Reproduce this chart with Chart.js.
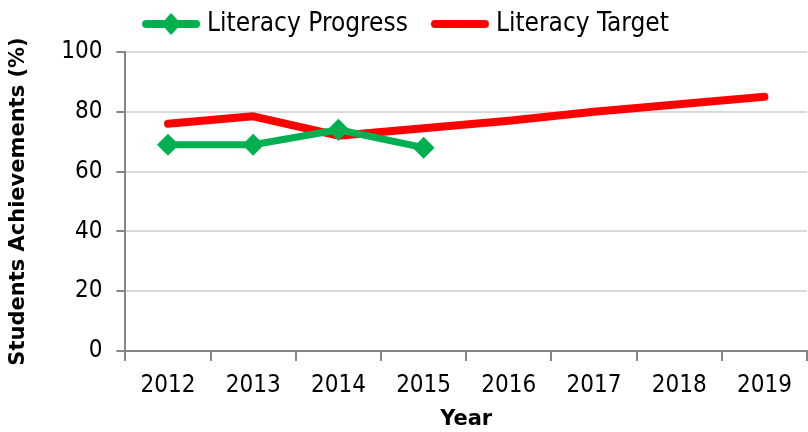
<!DOCTYPE html>
<html>
<head>
<meta charset="utf-8">
<script src="https://cdn.jsdelivr.net/npm/chart.js@4"></script>
<style>
html,body{margin:0;padding:0;background:#fff;}
#wrap{width:808px;height:432px;}
</style>
</head>
<body>
<div id="wrap"><canvas id="c" width="808" height="432"></canvas></div>
<script>
const years = ['2012','2013','2014','2015','2016','2017','2018','2019'];
const literacyProgress = [69, 69, 74, 68, null, null, null, null];
const literacyTarget = [76, 78.5, 72, 74.5, 77, 80, 82.5, 85];
const yTicks = [0, 20, 40, 60, 80, 100];

const GREEN = '#00B050';
const RED = '#FF0000';

function legendIcon(color, diamond) {
  const c = document.createElement('canvas');
  c.width = 72; c.height = 26;
  const g = c.getContext('2d');
  g.strokeStyle = color; g.lineWidth = 8; g.lineCap = 'round';
  g.beginPath(); g.moveTo(13, 13); g.lineTo(63, 13); g.stroke();
  if (diamond) {
    g.fillStyle = color;
    g.beginPath(); g.moveTo(38, 2); g.lineTo(48, 13); g.lineTo(38, 24); g.lineTo(28, 13); g.closePath(); g.fill();
  }
  return c;
}

const legendGap = {
  id: 'legendGap',
  afterInit(chart) {
    const lg = chart.legend;
    if (!lg) return;
    const orig = lg.fit.bind(lg);
    lg.fit = function () { orig(); this.height += 5; };
  }
};

const TICK_FONT = "'DejaVu Sans Condensed', 'DejaVu Sans', sans-serif";
const TITLE_FONT = "'DejaVu Sans', sans-serif";
Chart.defaults.font.family = TICK_FONT;
Chart.defaults.color = '#000';

new Chart(document.getElementById('c'), {
  type: 'line',
  plugins: [legendGap],
  data: {
    labels: years,
    datasets: [
      {
        label: 'Literacy Progress',
        data: literacyProgress,
        borderColor: GREEN,
        backgroundColor: GREEN,
        borderWidth: 7,
        pointStyle: 'rectRot',
        pointRadius: 11,
        pointHoverRadius: 11,
        pointBorderWidth: 0,
        borderJoinStyle: 'round',
        borderCapStyle: 'round',
        tension: 0,
        spanGaps: false
      },
      {
        label: 'Literacy Target',
        data: literacyTarget,
        borderColor: RED,
        backgroundColor: RED,
        borderWidth: 8,
        pointRadius: 0,
        pointHoverRadius: 0,
        borderJoinStyle: 'round',
        borderCapStyle: 'round',
        tension: 0
      }
    ]
  },
  options: {
    responsive: false,
    animation: false,
    layout: { autoPadding: false, padding: { top: -14, right: 1, left: 6, bottom: 0 } },
    plugins: {
      tooltip: { enabled: false },
      legend: {
        position: 'top',
        labels: {
          usePointStyle: true,
          pointStyleWidth: 50,
          font: { size: 26 },
          padding: 25,
          generateLabels: (chart) => chart.data.datasets.map((ds, i) => ({
            text: ds.label,
            fillStyle: ds.borderColor,
            strokeStyle: ds.borderColor,
            lineWidth: 0,
            pointStyle: legendIcon(ds.borderColor, i === 0),
            datasetIndex: i,
            hidden: false
          }))
        }
      }
    },
    scales: {
      x: {
        offset: true,
        grid: { offset: true, drawOnChartArea: false, drawTicks: true, tickLength: 10, color: '#868686', lineWidth: 2 },
        border: { color: '#868686', width: 2 },
        ticks: { font: { size: 24 }, padding: 10 },
        title: { display: true, text: 'Year', font: { family: TITLE_FONT, size: 21, weight: 'bold' }, padding: { top: -3, bottom: 0 } }
      },
      y: {
        min: 0, max: 100,
        afterBuildTicks: (axis) => { axis.ticks = yTicks.map(v => ({ value: v })); },
        grid: { color: '#D9D9D9', lineWidth: 2, drawTicks: true, tickLength: 9, tickColor: '#868686' },
        border: { color: '#868686', width: 2 },
        ticks: { font: { size: 24 }, padding: 14 },
        title: { display: true, text: 'Students Achievements (%)', font: { family: TITLE_FONT, size: 21, weight: 'bold' }, padding: { top: 0, bottom: 16 } }
      }
    }
  }
});
</script>
</body>
</html>
